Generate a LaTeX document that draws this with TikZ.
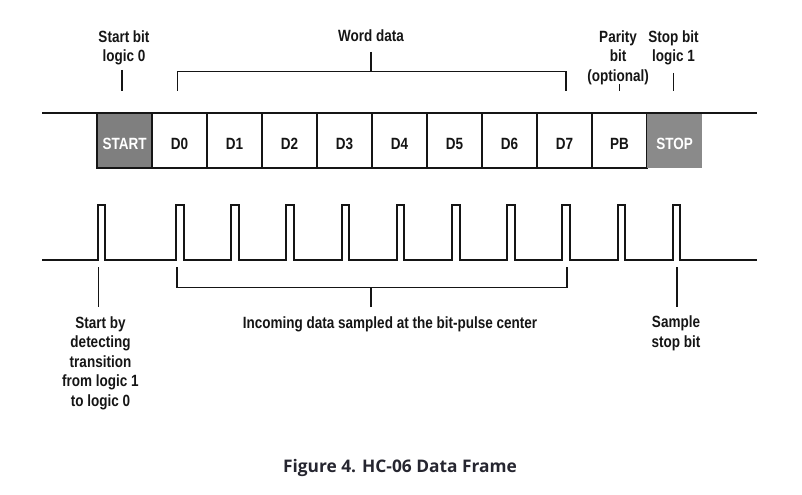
\documentclass[tikz,border=0pt]{standalone}
\usepackage{fontspec}
\newfontfamily\lblfamily[FakeStretch=0.83]{Liberation Sans}
\newfontfamily\capfamily{Open Sans}
\definecolor{ink}{HTML}{151515}
\definecolor{startgray}{HTML}{7F7F7F}
\definecolor{stopgray}{HTML}{8A8A8A}
\definecolor{capink}{HTML}{262630}
\begin{document}
\begin{tikzpicture}[x=0.75pt,y=-0.75pt,
  frame/.style={line width=1.5pt, draw=ink, line join=miter},
  tickline/.style={line width=1.2pt, draw=ink},
  lbl/.style={font=\lblfamily\bfseries\fontsize{12.2}{14.7}\selectfont, align=center, inner sep=0pt, text=ink},
  bitbox/.style={draw=ink, line width=1.5pt, fill=white, minimum width=41.25pt, minimum height=41.25pt, inner sep=0pt},
  boxlbl/.style={font=\lblfamily\bfseries\fontsize{12.2}{14.7}\selectfont, inner sep=0pt, anchor=base, text=ink},
  greylbl/.style={boxlbl, text=white},
]
\useasboundingbox (0,0) rectangle (802,495);

% ---- frame boxes ----
\node[bitbox, fill=startgray] (b0) at (124.5,140.5) {};
\foreach \i in {1,...,9}{
  \node[bitbox] (b\i) at ({124.5+55*\i},140.5) {};
}
\node[minimum width=41.25pt, minimum height=41.25pt, inner sep=0pt, fill=stopgray] (b10) at (674.5,140.5) {};
\coordinate (fl) at (42,113);
\coordinate (fr) at (757,113);
\draw[frame] (fl) -- (fr);

\node[greylbl] (t0) at (124.5,150) {START};
\foreach \i/\t in {1/D0,2/D1,3/D2,4/D3,5/D4,6/D5,7/D6,8/D7,9/PB}{
  \node[boxlbl] (t\i) at ({124.5+55*\i},150) {\t};
}
\node[greylbl] (t10) at (674.5,150) {STOP};

% ---- top labels (anchor = baseline of last line) ----
\node[lbl, anchor=base] (lstart) at (124,62) {Start bit\\logic 0};
\node[lbl, anchor=base] (lword) at (371,42) {Word data};
\node[lbl, anchor=base] (lpar) at (618,81.5) {Parity\\bit\\(optional)};
\node[lbl, anchor=base] (lstop) at (673.5,62) {Stop bit\\logic 1};

\coordinate (s1) at (122,70); \coordinate (s2) at (122,91);
\draw[tickline] (s1) -- (s2);
\coordinate (wl) at (177.3,91); \coordinate (wr) at (566,91);
\coordinate (wc) at (370.8,52);
\draw[tickline] (wl) |- (wr |- 0,71.7) -- (wr);
\draw[tickline] (wc) -- (370.8,71.7);
\coordinate (p1) at (619.3,84); \coordinate (p2) at (619.3,91);
\draw[tickline] (p1) -- (p2);
\coordinate (q1) at (673.3,73); \coordinate (q2) at (673.3,91);
\draw[tickline] (q1) -- (q2);

% ---- sampling waveform ----
\draw[frame] (42,260) -- (97.5,260) -- (97.5,205) -- (105,205) -- (105,260)
  \foreach \k in {0,...,9}{ -- ({176+55.2*\k},260) -- ({176+55.2*\k},205) -- ({183.5+55.2*\k},205) -- ({183.5+55.2*\k},260)}
  -- (757,260);

% ---- bottom labels ----
\coordinate (d1) at (98.3,267); \coordinate (d2) at (98.3,307);
\draw[tickline] (d1) -- (d2);
\coordinate (il) at (176.7,267); \coordinate (ir) at (566.7,267);
\coordinate (ic) at (371,307);
\draw[tickline] (il) |- (ir |- 0,287.3) -- (ir);
\draw[tickline] (ic) -- (371,287.3);
\coordinate (m1) at (676.7,267); \coordinate (m2) at (676.7,307);
\draw[tickline] (m1) -- (m2);

\node[lbl, anchor=base] (ldet) at (100.5,406.5) {Start by\\detecting\\transition\\from logic 1\\to logic 0};
\node[lbl, anchor=base] (linc) at (390,328.5) {Incoming data sampled at the bit-pulse center};
\node[lbl, anchor=base] (lsmp) at (676,347.5) {Sample\\stop bit};

% ---- caption ----
\node[font=\capfamily\bfseries\fontsize{13}{15}\selectfont, text=capink, inner sep=0pt, anchor=base] (cap) at (400,472.3) {Figure 4. HC-06 Data Frame};
\end{tikzpicture}
\end{document}
